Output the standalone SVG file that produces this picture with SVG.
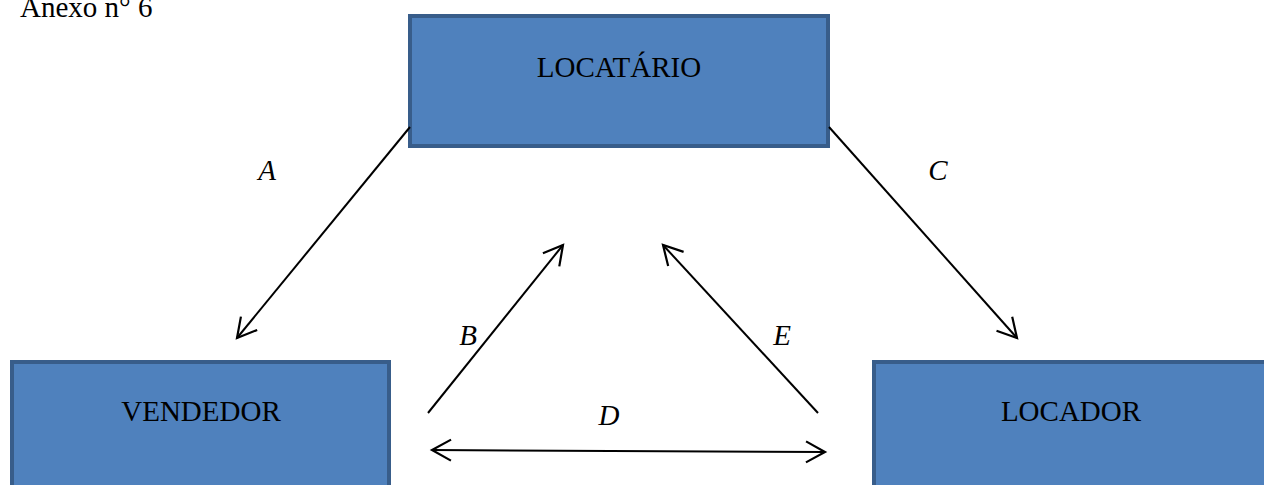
<svg xmlns="http://www.w3.org/2000/svg" width="1264" height="485" viewBox="0 0 1264 485">
<style>
.box{fill:#4f81bd;stroke:#385d8a;stroke-width:4}
.lbl{font-family:"Liberation Serif","Times New Roman",serif;font-size:29px;fill:#000;text-anchor:middle}
.hd{font-family:"Liberation Serif","Times New Roman",serif;font-size:29px;fill:#000}
.it{font-family:"Liberation Serif","Times New Roman",serif;font-size:29px;font-style:italic;fill:#000;text-anchor:middle}
.ln{stroke:#000;stroke-width:2;fill:none}
</style>
<defs>
<marker id="arr" markerUnits="userSpaceOnUse" markerWidth="30" markerHeight="30" viewBox="-22 -15 30 30" refX="0" refY="0" orient="auto-start-reverse" overflow="visible">
<path d="M-19,-10.5 L0,0 L-19,10.5" fill="none" stroke="#000" stroke-width="2.2"/>
</marker>
</defs>
<rect width="1264" height="485" fill="#fff"/>
<text class="hd" x="20" y="17">Anexo n° 6</text>
<g id="locatario">
<rect class="box" x="410" y="16" width="418" height="130"/>
<text class="lbl" x="619" y="77">LOCATÁRIO</text>
</g>
<g id="vendedor">
<rect class="box" x="12" y="362" width="377" height="140"/>
<text class="lbl" x="201" y="421">VENDEDOR</text>
</g>
<g id="locador">
<rect class="box" x="874" y="362" width="410" height="140"/>
<text class="lbl" x="1071" y="421">LOCADOR</text>
</g>
<g id="connectors">
<line class="ln" x1="410" y1="127" x2="237" y2="338" marker-end="url(#arr)"/>
<line class="ln" x1="829" y1="127" x2="1017" y2="338" marker-end="url(#arr)"/>
<line class="ln" x1="428" y1="413" x2="563" y2="245" marker-end="url(#arr)"/>
<line class="ln" x1="818" y1="413" x2="663" y2="245" marker-end="url(#arr)"/>
<line class="ln" x1="432" y1="450" x2="825" y2="452" marker-start="url(#arr)" marker-end="url(#arr)"/>
</g>
<g id="labels">
<text class="it" x="267" y="180">A</text>
<text class="it" x="938" y="180">C</text>
<text class="it" x="468" y="345">B</text>
<text class="it" x="782" y="345">E</text>
<text class="it" x="609" y="425">D</text>
</g>
</svg>
